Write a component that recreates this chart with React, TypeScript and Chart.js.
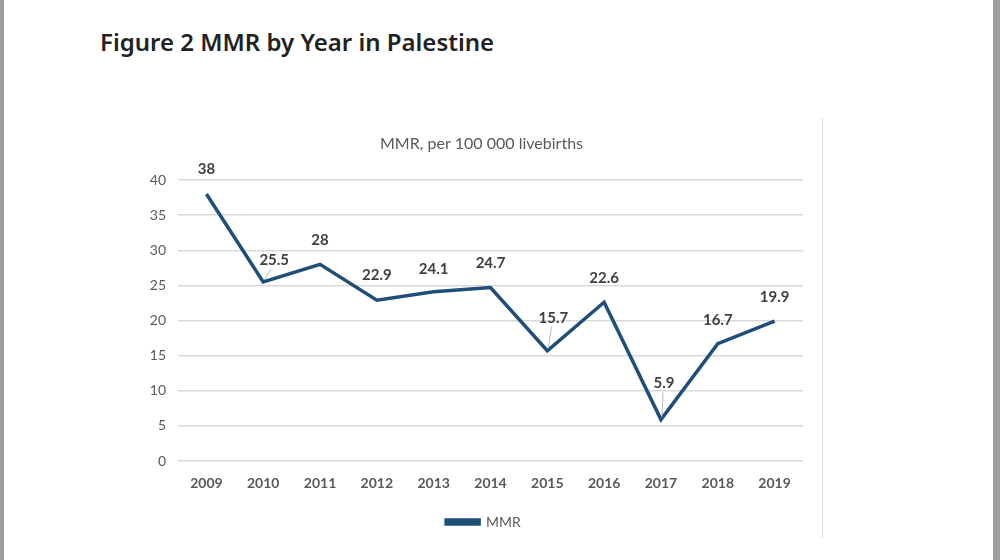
import React, { useEffect, useRef } from "react";
import { Chart, registerables } from "chart.js";

Chart.register(...registerables);

const years = ["2009", "2010", "2011", "2012", "2013", "2014", "2015", "2016", "2017", "2018", "2019"];
const mmrValues = [38, 25.5, 28, 22.9, 24.1, 24.7, 15.7, 22.6, 5.9, 16.7, 19.9];
const seriesName = "MMR";
const chartTitle = "MMR, per 100 000 livebirths";
const figureTitle = "Figure 2 MMR by Year in Palestine";
const yMin = 0;
const yMax = 40;
const yStep = 5;

// label placement styles (dx, dy from point, leader line)
const labelDx = [0, 11, 0, 0, 0, 0, 6, 0, 3, 0, 0];
const labelDy = [-25, -22, -24, -25, -23, -24, -33, -24, -36, -24, -24];
const labelLeader = [false, true, false, false, false, false, true, false, true, false, false];

const LINE_COLOR = "#1f4e79";
const FONT = "Lato, 'Liberation Sans', sans-serif";
const LEGEND_SHIFT = 13;

const dataLabelPlugin = {
  id: "dataLabels",
  afterLayout(chart: any) {
    const legend = chart.legend;
    if (legend) {
      legend.left += LEGEND_SHIFT;
      legend.right += LEGEND_SHIFT;
    }
  },
  afterDatasetsDraw(chart: any) {
    const ctx = chart.ctx;
    const meta = chart.getDatasetMeta(0);
    ctx.save();
    meta.data.forEach((pt: any, i: number) => {
      const x = pt.x + labelDx[i];
      const y = pt.y + labelDy[i];
      if (labelLeader[i]) {
        ctx.strokeStyle = "#a6a6a6";
        ctx.lineWidth = 0.8;
        ctx.beginPath();
        ctx.moveTo(x - labelDx[i] * 0.3, y + 9);
        ctx.lineTo(pt.x + 1, pt.y - 2);
        ctx.stroke();
      }
      ctx.font = `bold 15px ${FONT}`;
      ctx.fillStyle = "#404040";
      ctx.textAlign = "center";
      ctx.textBaseline = "middle";
      ctx.fillText(String(mmrValues[i]), x, y);
    });
    ctx.restore();
  },
};

const chartTitlePlugin = {
  id: "chartTitleText",
  afterDraw(chart: any) {
    const ctx = chart.ctx;
    const area = chart.chartArea;
    ctx.save();
    ctx.font = `16px ${FONT}`;
    ctx.fillStyle = "#595959";
    ctx.textAlign = "center";
    ctx.textBaseline = "middle";
    ctx.fillText(chartTitle, (area.left + area.right) / 2 - 9, area.top - 36);
    ctx.restore();
  },
};

export default function App() {
  const canvasRef = useRef<HTMLCanvasElement | null>(null);

  useEffect(() => {
    document.body.style.margin = "0";
    const canvas = canvasRef.current;
    if (!canvas) return;
    const chart = new Chart(canvas, {
      type: "line",
      data: {
        labels: years,
        datasets: [
          {
            label: seriesName,
            data: mmrValues,
            borderColor: LINE_COLOR,
            backgroundColor: LINE_COLOR,
            borderWidth: 3.5,
            pointRadius: 0,
            tension: 0,
          },
        ],
      },
      options: {
        responsive: false,
        animation: false,
        events: [],
        layout: { padding: { left: 138, right: 197, top: 180, bottom: 21 } },
        plugins: {
          title: { display: false },
          tooltip: { enabled: false },
          legend: {
            display: true,
            position: "bottom",
            labels: {
              boxWidth: 33,
              boxHeight: 4,
              padding: 6,
              color: "#595959",
              font: { family: FONT, size: 14 },
            },
          },
        },
        scales: {
          x: {
            offset: true,
            grid: { display: false, drawTicks: false },
            border: { display: false },
            ticks: {
              color: "#595959",
              font: { family: FONT, size: 14, weight: "bold" },
              padding: 14,
              maxRotation: 0,
            },
            afterFit(scale: any) {
              scale.height = 48;
            },
          },
          y: {
            min: yMin,
            max: yMax,
            grid: { color: "#d9d9d9", lineWidth: 1.5, drawTicks: false },
            border: { display: false },
            ticks: {
              stepSize: yStep,
              color: "#595959",
              font: { family: FONT, size: 14 },
              padding: 12,
            },
            afterFit(scale: any) {
              scale.width = 40;
            },
          },
        },
      },
      plugins: [dataLabelPlugin, chartTitlePlugin],
    });
    return () => chart.destroy();
  }, []);

  return (
    <div style={{ position: "relative", width: 1000, height: 560, background: "#fff", overflow: "hidden" }}>
      <div style={{ position: "absolute", left: 0, top: 0, width: 4, height: 560, background: "#9e9e9e" }} />
      <div style={{ position: "absolute", left: 993, top: 0, width: 7, height: 560, background: "#9e9e9e" }} />
      <div style={{ position: "absolute", left: 822, top: 118, width: 1, height: 420, background: "#d9d9d9" }} />
      <div
        style={{
          position: "absolute",
          left: 100,
          top: 25,
          fontFamily: "'Noto Sans', sans-serif",
          fontWeight: 600,
          fontSize: 24,
          color: "#222",
          whiteSpace: "nowrap",
        }}
      >
        {figureTitle}
      </div>
      <canvas ref={canvasRef} width={1000} height={560} style={{ position: "absolute", left: 0, top: 0 }} />
    </div>
  );
}
